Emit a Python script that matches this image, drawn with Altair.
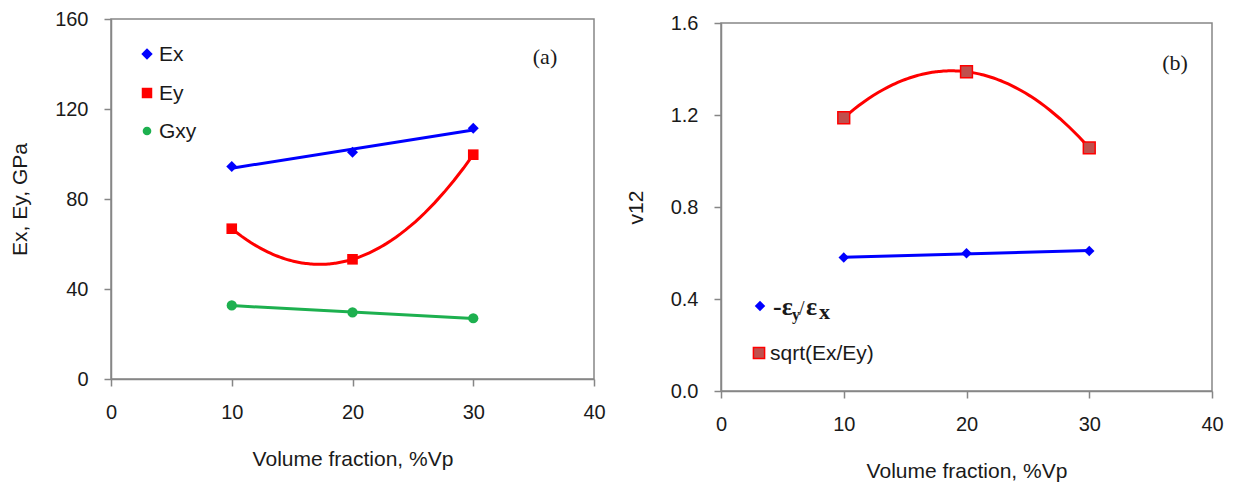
import altair as alt
import pandas as pd

# ---------------- data ----------------
vol_frac = [10, 20, 30]
ex_vals = [94.4, 100.8, 111.4]
ey_vals = [66.8, 53.2, 99.7]
gxy_vals = [32.7, 29.6, 27.0]
nu_strain_vals = [0.580, 0.599, 0.609]
nu_sqrt_vals = [1.188, 1.388, 1.057]
left_series = ["Ex", "Ey", "Gxy"]
right_series = ["strain", "sqrt(Ex/Ey)"]
x_ticks = [0, 10, 20, 30, 40]
left_y_ticks = [0, 40, 80, 120, 160]
right_y_ticks = [0.0, 0.4, 0.8, 1.2, 1.6]

left_df = pd.DataFrame({
    "vf": vol_frac * 3,
    "val": ex_vals + ey_vals + gxy_vals,
    "series": [s for s in left_series for _ in vol_frac],
})
right_df = pd.DataFrame({
    "vf": vol_frac * 2,
    "val": nu_strain_vals + nu_sqrt_vals,
    "series": [s for s in right_series for _ in vol_frac],
})

# ---------------- styles ----------------
FONT = "Liberation Sans"
SERIF = "Liberation Serif"
BLUE = "#0000FF"
RED = "#FF0000"
GREEN = "#1DB04F"
SQ_FILL = "#C0504D"
GRAY = "#868686"
TXT = "#1a1a1a"
LFS = 20   # tick labels
TFS = 21   # axis titles / legend

one_row = alt.Data(values=[{}])


def x_enc():
    return alt.X(
        "vf:Q",
        scale=alt.Scale(domain=[0, 40], nice=False),
        axis=alt.Axis(values=x_ticks, format="d", title="Volume fraction, %Vp",
                      labelFlush=False, labelPadding=16, titlePadding=26),
    )


def yl_enc():
    return alt.Y(
        "val:Q",
        scale=alt.Scale(domain=[0, 160], nice=False),
        axis=alt.Axis(values=left_y_ticks, format="d", title="Ex, Ey, GPa",
                      labelPadding=16, titlePadding=24),
    )


def yr_enc():
    return alt.Y(
        "val:Q",
        scale=alt.Scale(domain=[0, 1.6], nice=False),
        axis=alt.Axis(values=right_y_ticks, format=".1f", title="v12",
                      labelPadding=16, titlePadding=24),
    )


def fit(df, series, color, method, yenc, order=None):
    kw = dict(method=method, extent=[10, 30])
    if order is not None:
        kw["order"] = order
    return (
        alt.Chart(df)
        .transform_filter(alt.datum.series == series)
        .transform_regression("vf", "val", **kw)
        .mark_line(color=color, strokeWidth=3)
        .encode(x=x_enc(), y=yenc)
    )


def sym(x, y, shape, fill, size, stroke=None):
    kw = dict(shape=shape, fill=fill, size=size, opacity=1, filled=True)
    if stroke:
        kw.update(stroke=stroke, strokeWidth=1.5)
    else:
        kw.update(strokeWidth=0)
    return alt.Chart(one_row).mark_point(**kw).encode(x=alt.value(x), y=alt.value(y))


def txt(x, y, text, size=TFS, font=FONT, weight="normal", baseline="middle", align="left"):
    return alt.Chart(one_row).mark_text(
        text=text, font=font, fontSize=size, fontWeight=weight, color=TXT,
        align=align, baseline=baseline,
    ).encode(x=alt.value(x), y=alt.value(y))


# ---------------- left panel ----------------
left_points = alt.Chart(left_df).mark_point(filled=True, opacity=1, strokeWidth=0).encode(
    x=x_enc(), y=yl_enc(),
    shape=alt.Shape("series:N", scale=alt.Scale(domain=left_series, range=["diamond", "square", "circle"]), legend=None),
    color=alt.Color("series:N", scale=alt.Scale(domain=left_series, range=[BLUE, RED, GREEN]), legend=None),
    size=alt.Size("series:N", scale=alt.Scale(domain=left_series, range=[120, 105, 80]), legend=None),
)

left = alt.layer(
    fit(left_df, "Ex", BLUE, "linear", yl_enc()),
    fit(left_df, "Ey", RED, "poly", yl_enc(), order=2),
    fit(left_df, "Gxy", GREEN, "linear", yl_enc()),
    left_points,
    sym(36, 35, "diamond", BLUE, 130),
    txt(48, 36, "Ex"),
    sym(36, 74, "square", RED, 110),
    txt(48, 75, "Ey"),
    sym(36, 112, "circle", GREEN, 75),
    txt(48, 113, "Gxy"),
    txt(434, 38, "(a)", size=22, font=SERIF, align="center"),
).properties(width=483, height=360)

# ---------------- right panel ----------------
right_strain = alt.Chart(right_df).transform_filter(alt.datum.series == "strain").mark_point(
    shape="diamond", filled=True, opacity=1, strokeWidth=0, size=110, color=BLUE
).encode(x=x_enc(), y=yr_enc())
right_sqrt = alt.Chart(right_df).transform_filter(alt.datum.series == "sqrt(Ex/Ey)").mark_point(
    shape="square", filled=True, opacity=1, fill=SQ_FILL, stroke=RED, strokeWidth=1.5, size=140
).encode(x=x_enc(), y=yr_enc())

right = alt.layer(
    fit(right_df, "strain", BLUE, "linear", yr_enc()),
    fit(right_df, "sqrt(Ex/Ey)", RED, "poly", yr_enc(), order=2),
    right_strain,
    right_sqrt,
    sym(39, 283, "diamond", BLUE, 110),
    txt(52, 292, "-ε", size=26, font=SERIF, weight="bold", baseline="alphabetic"),
    txt(71, 297, "y", size=16, font=SERIF, weight="bold", baseline="alphabetic"),
    txt(78, 292, "/", size=20, font=SERIF, baseline="alphabetic"),
    txt(85, 292, "ε", size=26, font=SERIF, weight="bold", baseline="alphabetic"),
    txt(98, 296, "x", size=22, font=SERIF, weight="bold", baseline="alphabetic"),
    sym(38, 330, "square", SQ_FILL, 125, stroke=RED),
    txt(49, 331, "sqrt(Ex/Ey)"),
    txt(454, 40, "(b)", size=22, font=SERIF, align="center"),
).properties(width=491, height=368)

# invisible spacer that lowers the right panel by a few pixels
spacer = alt.Chart(one_row).mark_point(opacity=0).encode(
    x=alt.value(0), y=alt.value(0)
).properties(width=491, height=4, view=alt.ViewBackground(stroke="transparent"))

right_col = alt.vconcat(spacer, right, spacing=0, bounds="flush")

chart = (
    alt.hconcat(left, right_col, spacing=18)
    .properties(padding={"left": 0, "top": 0, "right": 0, "bottom": 0})
    .configure_view(stroke=GRAY, strokeWidth=1.5)
    .configure_axis(
        grid=False, domainColor=GRAY, domainWidth=1.5, tickColor=GRAY, tickWidth=1.5,
        tickSize=7, labelFont=FONT, labelFontSize=LFS, labelColor=TXT,
        titleFont=FONT, titleFontSize=TFS, titleFontWeight="normal", titleColor=TXT,
    )
)

chart.save("out.html", embed_options={"renderer": "svg", "actions": False})
